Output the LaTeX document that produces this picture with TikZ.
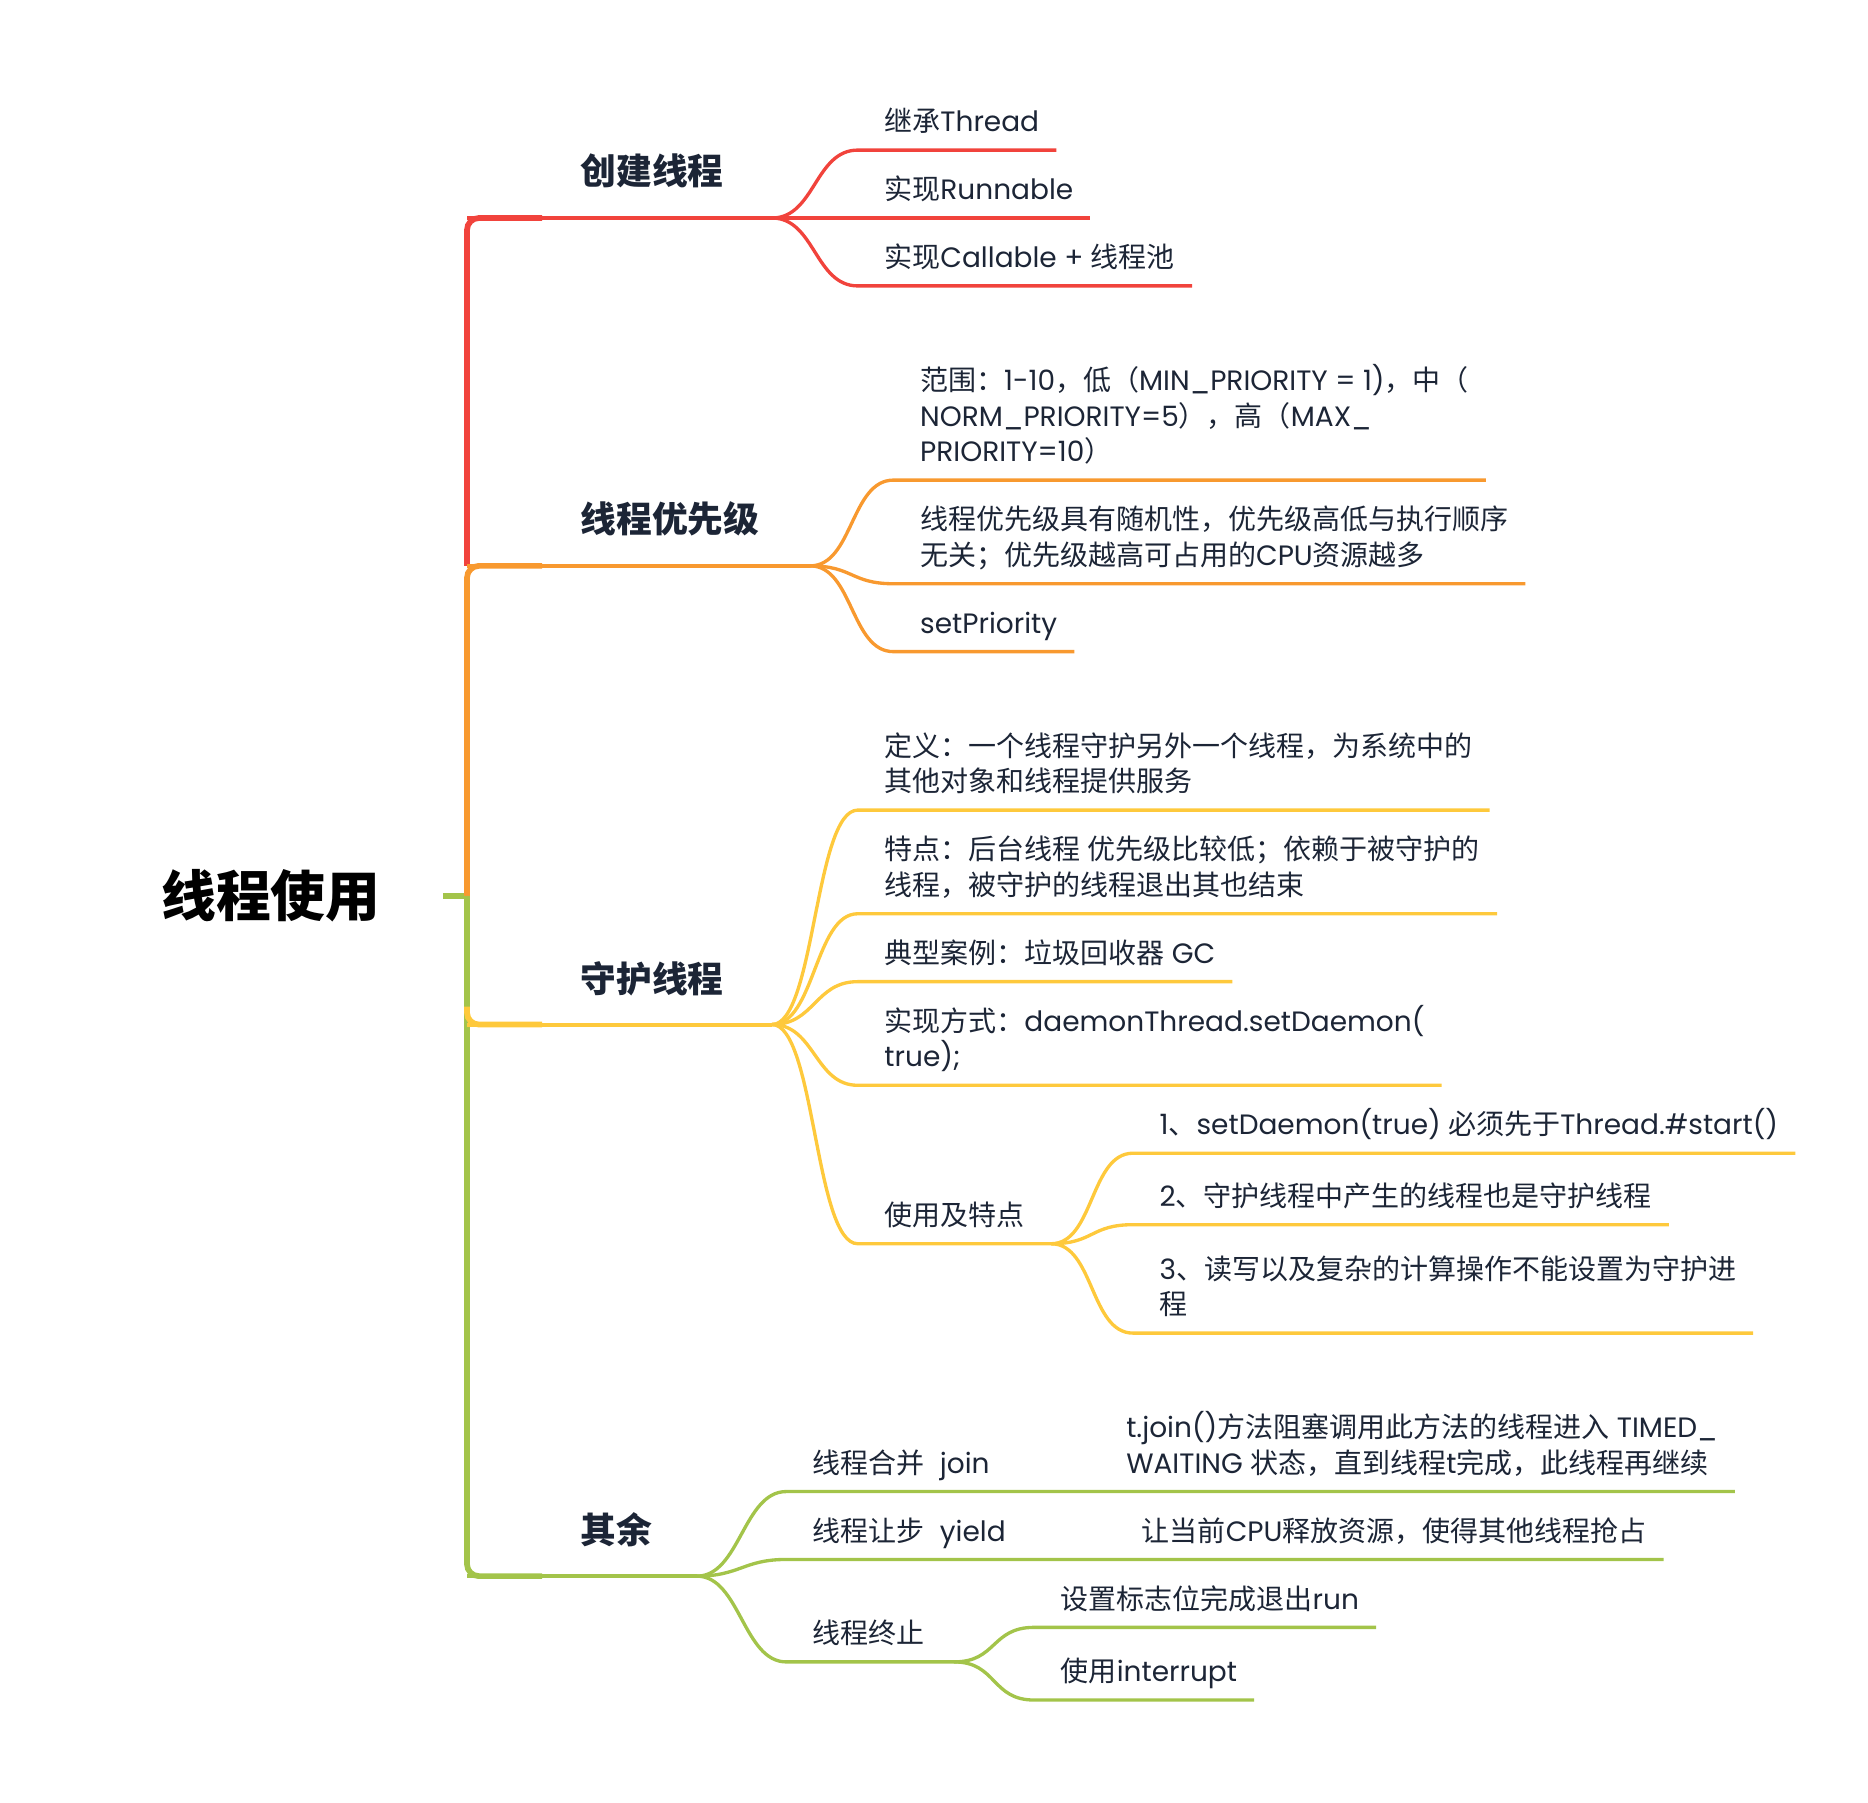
\documentclass[tikz,border=0pt]{standalone}
\usepackage{fontspec}
\usepackage{xcolor}
\usepackage{tikz}
\usetikzlibrary{calc}
\setmainfont{Poppins}
\newfontfamily\latinfont{Poppins}
\newfontfamily\cjkfont{Noto Sans CJK SC}
% Chinese characters are set in the CJK face
\XeTeXinterchartokenstate=1
\newXeTeXintercharclass\cjkclass
\count255="3000
\loop\XeTeXcharclass\count255=\cjkclass
  \ifnum\count255<"303F \advance\count255 by 1 \repeat
\count255="4E00
\loop\XeTeXcharclass\count255=\cjkclass
  \ifnum\count255<"9FFF \advance\count255 by 1 \repeat
\count255="FF00
\loop\XeTeXcharclass\count255=\cjkclass
  \ifnum\count255<"FFEF \advance\count255 by 1 \repeat
\XeTeXinterchartoks 0 \cjkclass={\cjkfont}
\XeTeXinterchartoks 4095 \cjkclass={\cjkfont}
\XeTeXinterchartoks \cjkclass 0={\latinfont}
\XeTeXinterchartoks \cjkclass 4095={\latinfont}
\definecolor{branchred}{HTML}{F1433C}
\definecolor{branchorange}{HTML}{F8992F}
\definecolor{branchyellow}{HTML}{FEC93C}
\definecolor{branchgreen}{HTML}{A3C44A}
\definecolor{ink}{HTML}{1C2536}

\begin{document}
\begin{tikzpicture}[x=0.5pt,y=-0.5pt,
  leaf/.style={anchor=south west,inner xsep=0pt,inner ysep=5.5pt,text depth=2pt,
    align=left,text=ink,font=\fontsize{11.75}{15}\selectfont},
  topic/.style={anchor=base west,inner sep=0pt,text=ink,font=\fontsize{15}{18}\selectfont\bfseries},
  stem/.style={line width=2.4pt,rounded corners=5pt},
  limb/.style={line width=1.7pt},
  twig/.style={line width=1.4pt}]
  \useasboundingbox (0,0) rectangle (1568,1513);

  \node[anchor=west,inner sep=0pt,font=\fontsize{23}{28}\selectfont\bfseries] (root) at (135,752) {线程使用};
  \coordinate (hub) at (392,752);
  \coordinate (s1) at (648,183);
  \coordinate (s2) at (680,475);
  \coordinate (s3) at (648,860);
  \coordinate (s4) at (585,1323);

  \node[topic] (t1) at (487,155) {创建线程};
  \node[topic] (t2) at (487,447) {线程优先级};
  \node[topic] (t3) at (487,833) {守护线程};
  \node[topic] (t4) at (487,1296) {其余};

  % spine
  \draw[branchgreen,line width=2.6pt] ([xshift=26pt]root.east) -- (hub);
  \draw[branchred,stem] (hub |- s2) -- (hub |- s1) -- ++(63,0);
  \draw[branchorange,stem] (hub) -- (hub |- s2) -- ++(63,0);
  \draw[branchgreen,stem] (hub) -- (hub |- s4) -- ++(63,0);
  \draw[branchyellow,stem] ([yshift=7.5pt]hub |- s3) -- (hub |- s3) -- ++(63,0);
  \draw[branchred,limb] (hub |- s1) -- (s1);
  \draw[branchorange,limb] (hub |- s2) -- (s2);
  \draw[branchyellow,limb] (hub |- s3) -- (s3);
  \draw[branchgreen,limb] (hub |- s4) -- (s4);

  \node[leaf] (c11) at (742,126) {继承Thread};
  \node[leaf] (c12) at (742,183) {实现Runnable};
  \node[leaf] (c13) at (742,240) {实现Callable + 线程池};

  \node[leaf] (c21) at (772,403) {范围：1-10，低（MIN\_PRIORITY = 1)，中（\\NORM\_PRIORITY=5），高（MAX\_\\PRIORITY=10）};
  \node[leaf] (c22) at (772,490) {线程优先级具有随机性，优先级高低与执行顺序\\无关；优先级越高可占用的CPU资源越多};
  \node[leaf] (c23) at (772,547) {setPriority};

  \node[leaf] (c31) at (742,680) {定义：一个线程守护另外一个线程，为系统中的\\其他对象和线程提供服务};
  \node[leaf] (c32) at (742,767) {特点：后台线程 优先级比较低；依赖于被守护的\\线程，被守护的线程退出其也结束};
  \node[leaf] (c33) at (742,824) {典型案例：垃圾回收器 GC};
  \node[leaf] (c34) at (742,911) {实现方式：daemonThread.setDaemon(\\true);};
  \node[leaf] (c35) at (742,1044) {使用及特点};
  \node[leaf] (c351) at (973,968) {1、setDaemon(true) 必须先于Thread.\#start()};
  \node[leaf] (c352) at (973,1028) {2、守护线程中产生的线程也是守护线程};
  \node[leaf] (c353) at (973,1119) {3、读写以及复杂的计算操作不能设置为守护进\\程};

  \node[leaf] (c41) at (682,1252) {线程合并~~join};
  \node[leaf] (d41) at (945,1252) {t.join()方法阻塞调用此方法的线程进入 TIMED\_\\WAITING 状态，直到线程t完成，此线程再继续};
  \node[leaf] (c42) at (682,1309) {线程让步~~yield};
  \node[leaf] (d42) at (958,1309) {让当前CPU释放资源，使得其他线程抢占};
  \node[leaf] (c43) at (682,1395) {线程终止};
  \node[leaf] (c431) at (890,1366) {设置标志位完成退出run};
  \node[leaf] (c432) at (890,1427) {使用interrupt};

  \coordinate (s35) at ([xshift=11pt]c35.south east);
  \coordinate (s43) at ([xshift=12pt]c43.south east);

  % sub-branches
  \foreach \c in {c11,c12,c13}
    \draw[branchred,twig] (s1) .. controls +(36,0) and +(-36,0) .. ([xshift=-11pt]\c.south west) -- ([xshift=7pt]\c.south east);
  \foreach \c in {c21,c22,c23}
    \draw[branchorange,twig] (s2) .. controls +(36,0) and +(-36,0) .. ([xshift=-11pt]\c.south west) -- ([xshift=7pt]\c.south east);
  \foreach \c in {c31,c32,c33,c34}
    \draw[branchyellow,twig] (s3) .. controls +(36,0) and +(-36,0) .. ([xshift=-11pt]\c.south west) -- ([xshift=7pt]\c.south east);
  \draw[branchyellow,twig] (s3) .. controls +(36,0) and +(-36,0) .. ([xshift=-11pt]c35.south west) -- (s35);
  \foreach \c in {c351,c352,c353}
    \draw[branchyellow,twig] (s35) .. controls +(36,0) and +(-36,0) .. ([xshift=-11pt]\c.south west) -- ([xshift=7pt]\c.south east);
  \draw[branchgreen,twig] (s4) .. controls +(36,0) and +(-36,0) .. ([xshift=-11pt]c41.south west) -- ([xshift=7pt]d41.south east);
  \draw[branchgreen,twig] (s4) .. controls +(36,0) and +(-36,0) .. ([xshift=-11pt]c42.south west) -- ([xshift=7pt]d42.south east);
  \draw[branchgreen,twig] (s4) .. controls +(36,0) and +(-36,0) .. ([xshift=-11pt]c43.south west) -- (s43);
  \foreach \c in {c431,c432}
    \draw[branchgreen,twig] (s43) .. controls +(36,0) and +(-36,0) .. ([xshift=-11pt]\c.south west) -- ([xshift=7pt]\c.south east);
\end{tikzpicture}
\end{document}
